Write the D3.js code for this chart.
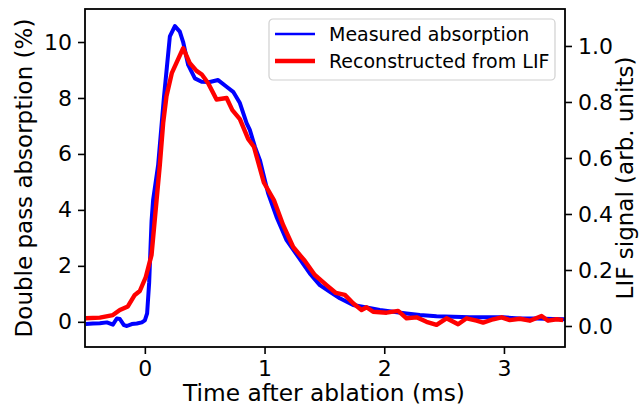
<!DOCTYPE html>
<html>
<head>
<meta charset="utf-8">
<script src="https://cdn.jsdelivr.net/npm/d3@7"></script>
<style>
  body { margin: 0; background: #fff; }
  svg text { font-family: "DejaVu Sans", sans-serif; fill: #000; }
</style>
</head>
<body>
<div id="chart"></div>
<script>
// measured absorption (left axis, %)
const absTime = [-0.493, -0.434, -0.376, -0.317, -0.267, -0.234, -0.209, -0.175, -0.150, -0.109, -0.067, -0.025, 0.0,
    0.019, 0.036, 0.056, 0.069, 0.111, 0.134, 0.159, 0.184, 0.209, 0.251, 0.292, 0.320, 0.362, 0.418, 0.474, 0.543,
    0.612, 0.683, 0.738, 0.794, 0.850, 0.877, 0.919, 0.961, 0.988, 1.030, 1.100, 1.184, 1.295, 1.378, 1.462, 1.546,
    1.629, 1.740, 1.852, 1.963, 2.074, 2.186, 2.297, 2.437, 2.576, 2.715, 2.993, 3.133, 3.272, 3.411, 3.509];
const absValue = [-0.08, -0.06, -0.05, -0.02, -0.10, 0.12, 0.10, -0.12, -0.15, -0.08, -0.06, -0.02, 0.05,
    0.3, 1.4, 3.6, 4.35, 5.6, 6.75, 8.0, 9.1, 10.2, 10.57, 10.37, 10.0, 9.18, 8.7, 8.58, 8.57,
    8.64, 8.40, 8.22, 7.82, 7.1, 6.86, 6.26, 5.78, 5.31, 4.59, 3.75, 2.92, 2.24, 1.73, 1.31, 1.07,
    0.84, 0.60, 0.51, 0.42, 0.36, 0.30, 0.24, 0.20, 0.18, 0.16, 0.16, 0.12, 0.12, 0.10, 0.09];

// reconstructed from LIF (right axis, arb. units)
const lifTime = [-0.493, -0.376, -0.267, -0.209, -0.142, -0.084, -0.042, 0.008, 0.056, 0.098, 0.125, 0.153, 0.181,
    0.226, 0.320, 0.376, 0.432, 0.476, 0.529, 0.599, 0.683, 0.731, 0.794, 0.863, 0.911, 0.994, 1.078, 1.155, 1.239,
    1.337, 1.420, 1.518, 1.596, 1.671, 1.740, 1.810, 1.852, 1.907, 2.019, 2.116, 2.186, 2.270, 2.353, 2.437, 2.520,
    2.617, 2.688, 2.771, 2.826, 2.910, 2.980, 3.049, 3.133, 3.216, 3.314, 3.369, 3.440, 3.495];
const lifValue = [0.0275, 0.030, 0.039, 0.057, 0.070, 0.111, 0.125, 0.175, 0.254, 0.45, 0.575, 0.725, 0.821,
    0.904, 0.992, 0.938, 0.911, 0.898, 0.867, 0.809, 0.814, 0.771, 0.739, 0.668, 0.640, 0.5125, 0.45, 0.361, 0.282,
    0.232, 0.182, 0.146, 0.118, 0.111, 0.081, 0.057, 0.067, 0.051, 0.0475, 0.054, 0.0275, 0.031, 0.015, 0.004, 0.0275,
    0.006, 0.0275, 0.019, 0.012, 0.024, 0.031, 0.021, 0.026, 0.019, 0.036, 0.019, 0.024, 0.021];

const xTicks = [0, 1, 2, 3];
const leftTicks = [0, 2, 4, 6, 8, 10];
const rightTicks = [0, 0.2, 0.4, 0.6, 0.8, 1.0];
const legendLabels = ["Measured absorption", "Reconstructed from LIF"];

const W = 644, H = 411;
const margin = {top: 9, right: 79, bottom: 64, left: 85};
const width = W - margin.left - margin.right;
const height = H - margin.top - margin.bottom;

const svg = d3.select("#chart").append("svg")
    .attr("width", W)
    .attr("height", H);

const x = d3.scaleLinear().domain([-0.5, 3.51]).range([margin.left, margin.left + width]);
const yL = d3.scaleLinear().domain([-0.9, 11.18]).range([margin.top + height, margin.top]);
const yR = d3.scaleLinear().domain([-0.075, 1.132]).range([margin.top + height, margin.top]);

svg.append("defs").append("clipPath").attr("id", "plotclip")
    .append("rect")
    .attr("x", margin.left).attr("y", margin.top)
    .attr("width", width).attr("height", height);

const plot = svg.append("g").attr("clip-path", "url(#plotclip)");

// blue measured trace (thick stroke stands in for the noise band)
const absData = absTime.map((t, i) => [t, absValue[i]]);
plot.append("path")
    .datum(absData)
    .attr("fill", "none")
    .attr("stroke", "#0000ff")
    .attr("stroke-width", 4)
    .attr("stroke-linejoin", "round")
    .attr("d", d3.line().x(d => x(d[0])).y(d => yL(d[1])));

// red reconstructed trace
const lifData = lifTime.map((t, i) => [t, lifValue[i]]);
plot.append("path")
    .datum(lifData)
    .attr("fill", "none")
    .attr("stroke", "#ff0000")
    .attr("stroke-width", 4.4)
    .attr("stroke-linejoin", "round")
    .attr("d", d3.line().x(d => x(d[0])).y(d => yR(d[1])));

// axes
const fontSize = 22;
const xAxis = svg.append("g")
    .attr("transform", `translate(0, ${margin.top + height})`)
    .call(d3.axisBottom(x).tickValues(xTicks).tickSize(7).tickPadding(6).tickFormat(d3.format("d")));
const leftAxis = svg.append("g")
    .attr("transform", `translate(${margin.left}, 0)`)
    .call(d3.axisLeft(yL).tickValues(leftTicks).tickSize(7).tickPadding(6).tickFormat(d3.format("d")));
const rightAxis = svg.append("g")
    .attr("transform", `translate(${margin.left + width}, 0)`)
    .call(d3.axisRight(yR).tickValues(rightTicks).tickSize(7).tickPadding(6).tickFormat(d3.format(".1f")));

[xAxis, leftAxis, rightAxis].forEach(g => {
    g.select(".domain").remove();
    g.selectAll(".tick line").attr("stroke", "#000").attr("stroke-width", 1.6);
    g.selectAll(".tick text")
        .style("font-family", "'DejaVu Sans', sans-serif")
        .style("font-size", fontSize + "px")
        .attr("fill", "#000");
});

// frame
svg.append("rect")
    .attr("x", margin.left).attr("y", margin.top)
    .attr("width", width).attr("height", height)
    .attr("fill", "none")
    .attr("stroke", "#000")
    .attr("stroke-width", 1.8);

// axis labels
svg.append("text")
    .attr("x", margin.left + width / 2 - 1)
    .attr("y", 401)
    .attr("text-anchor", "middle")
    .style("font-size", "23.3px")
    .text("Time after ablation (ms)");

svg.append("text")
    .attr("transform", `translate(32, ${margin.top + height / 2}) rotate(-90)`)
    .attr("text-anchor", "middle")
    .style("font-size", "23px")
    .text("Double pass absorption (%)");

svg.append("text")
    .attr("transform", `translate(633, ${margin.top + height / 2}) rotate(-90)`)
    .attr("text-anchor", "middle")
    .style("font-size", "23px")
    .text("LIF signal (arb. units)");

// legend
const legend = svg.append("g").attr("transform", "translate(269, 19)");
legend.append("rect")
    .attr("width", 286).attr("height", 61)
    .attr("rx", 4)
    .attr("fill", "#fff").attr("fill-opacity", 0.8)
    .attr("stroke", "#d0d0d0").attr("stroke-width", 1.2);

const legendColors = ["#0000ff", "#ff0000"];
const legendWidths = [2.5, 4.4];
legendLabels.forEach((label, i) => {
    const yy = 15 + i * 27;
    legend.append("line")
        .attr("x1", 6).attr("x2", 46)
        .attr("y1", yy).attr("y2", yy)
        .attr("stroke", legendColors[i])
        .attr("stroke-width", legendWidths[i]);
    legend.append("text")
        .attr("x", 60).attr("y", yy)
        .attr("dy", "0.36em")
        .style("font-size", "19px")
        .text(label);
});
</script>
</body>
</html>
